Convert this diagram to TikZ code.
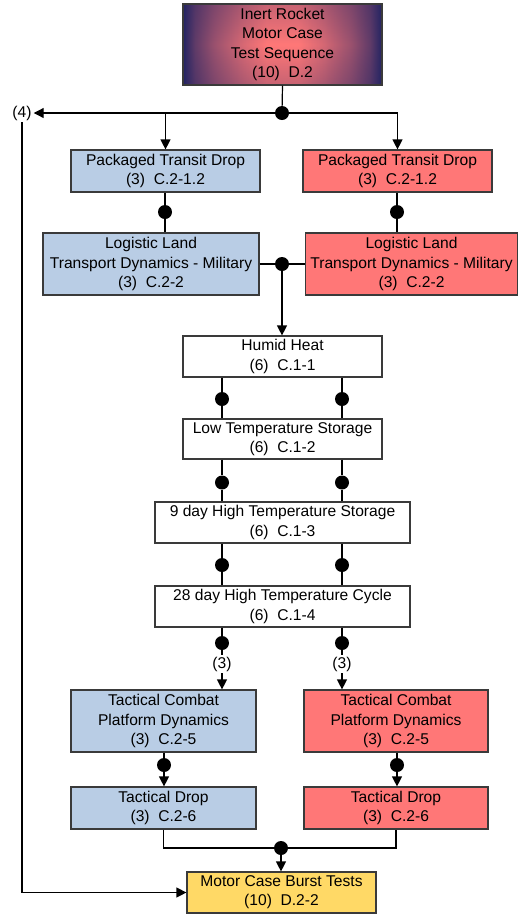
\documentclass[tikz,border=0pt]{standalone}
\usepackage{fontspec}
\setmainfont{Liberation Sans}
\usetikzlibrary{arrows.meta,calc,fadings}

\definecolor{boxline}{HTML}{3A3A3A}
\definecolor{bluefill}{HTML}{B9CDE5}
\definecolor{redfill}{HTML}{FF7777}
\definecolor{goldfill}{HTML}{FFD966}
\definecolor{navyedge}{HTML}{232463}
\definecolor{salmonmid}{HTML}{FF7878}

% left-to-right fade: dark blue at the sides, salmon in the middle
\pgfdeclarehorizontalshading{rocketshade}{100bp}{%
  color(0bp)=(navyedge); color(25bp)=(navyedge);
  color(28bp)=(navyedge!72!salmonmid); color(33bp)=(navyedge!45!salmonmid);
  color(40bp)=(salmonmid!82!navyedge); color(46bp)=(salmonmid);
  color(54bp)=(salmonmid); color(60bp)=(salmonmid!82!navyedge);
  color(67bp)=(navyedge!45!salmonmid); color(72bp)=(navyedge!72!salmonmid);
  color(75bp)=(navyedge); color(100bp)=(navyedge)}

% slight darkening towards the top and bottom edges of the heading box
\tikzfading[name=edgefade, top color=transparent!75, bottom color=transparent!75,
  middle color=transparent!100]

\tikzset{
  box/.style={draw=boxline, line width=1.2pt, inner sep=0pt, align=center,
              font=\fontsize{15.6}{19.2}\selectfont},
  bluebox/.style={box, fill=bluefill},
  redbox/.style={box, fill=redfill},
  plainbox/.style={box, fill=white},
  goldbox/.style={box, fill=goldfill},
  headbox/.style={box, shading=rocketshade,
    path picture={\fill[navyedge, path fading=edgefade]
      (path picture bounding box.south west) rectangle
      (path picture bounding box.north east);}},
  dot/.style={circle, fill=black, inner sep=0pt, minimum size=14pt},
  link/.style={line width=1.2pt, black},
  arr/.style={link, -{Triangle[length=10pt,width=10pt]}},
  tag/.style={inner sep=2pt, fill=white, font=\fontsize{15.6}{19.2}\selectfont},
}

\begin{document}
\begin{tikzpicture}[x=1pt, y=-1pt]
\useasboundingbox (0,0) rectangle (519,914);

% ---- boxes ----
\node[headbox, minimum width=199pt, minimum height=81pt] (top) at (282.5,44.5)
  {Inert Rocket\\Motor Case\\Test Sequence\\(10)\ \ D.2};

\node[bluebox, minimum width=189pt, minimum height=42pt] (ptdL) at (165.5,171)
  {Packaged Transit Drop\\(3)\ \ C.2-1.2};
\node[redbox, minimum width=189pt, minimum height=42pt] (ptdR) at (397.5,171)
  {Packaged Transit Drop\\(3)\ \ C.2-1.2};

\node[bluebox, minimum width=216pt, minimum height=62pt] (llL) at (151,264)
  {Logistic Land\\Transport Dynamics - Military\\(3)\ \ C.2-2};
\node[redbox, minimum width=212pt, minimum height=62pt] (llR) at (411.5,264)
  {Logistic Land\\Transport Dynamics - Military\\(3)\ \ C.2-2};

\node[plainbox, minimum width=199pt, minimum height=41pt] (hh) at (282.5,356.5)
  {Humid Heat\\(6)\ \ C.1-1};
\node[plainbox, minimum width=199pt, minimum height=40pt] (lt) at (282.5,439)
  {Low Temperature Storage\\(6)\ \ C.1-2};
\node[plainbox, minimum width=255pt, minimum height=41pt] (nd) at (282.5,522.5)
  {9 day High Temperature Storage\\(6)\ \ C.1-3};
\node[plainbox, minimum width=255pt, minimum height=41pt] (td) at (282.5,606.5)
  {28 day High Temperature Cycle\\(6)\ \ C.1-4};

\node[bluebox, minimum width=185pt, minimum height=62pt] (tcL) at (163.5,721)
  {Tactical Combat\\Platform Dynamics\\(3)\ \ C.2-5};
\node[redbox, minimum width=184pt, minimum height=62pt] (tcR) at (396,721)
  {Tactical Combat\\Platform Dynamics\\(3)\ \ C.2-5};

\node[bluebox, minimum width=185pt, minimum height=42pt] (tdL) at (163.5,808)
  {Tactical Drop\\(3)\ \ C.2-6};
\node[redbox, minimum width=184pt, minimum height=42pt] (tdR) at (396,808)
  {Tactical Drop\\(3)\ \ C.2-6};

\node[goldbox, minimum width=189pt, minimum height=41pt] (mc) at (281.5,892.5)
  {Motor Case Burst Tests\\(10)\ \ D.2-2};

% ---- junction dots ----
\node[dot] (j0) at (282,113) {};
\node[dot] (pL) at (165,212) {};
\node[dot] (pR) at (397,212) {};
\node[dot] (j1) at (282,264) {};
\node[dot] (a1) at (222,399) {};
\node[dot] (b1) at (342,399) {};
\node[dot] (a2) at (222,482.5) {};
\node[dot] (b2) at (342,482.5) {};
\node[dot] (a3) at (222,565) {};
\node[dot] (b3) at (342,565) {};
\node[dot] (a4) at (222,643) {};
\node[dot] (b4) at (342,643) {};
\node[dot] (cL) at (164,765) {};
\node[dot] (cR) at (397,765) {};
\node[dot] (j2) at (281,848) {};

% ---- labels on lines ----
\node[tag] (n4) at (22,113) {(4)};
\node[tag] (qa) at (222,664) {(3)};
\node[tag] (qb) at (342,664) {(3)};

% ---- connectors ----
\draw[link] (top.south) -- (j0);
\draw[arr] (j0) -- (n4.east);
\draw[arr] (j0) -| (ptdL.north);
\draw[arr] (j0) -| (ptdR.north);
\draw[arr] (n4.south) |- (mc.west);

\draw[link] (ptdL.south -| pL) -- (pL) -- (llL.north -| pL);
\draw[link] (ptdR.south -| pR) -- (pR) -- (llR.north -| pR);

\draw[link] (llL.east) -- (j1) -- (llR.west);
\draw[arr] (j1) -- (hh.north -| j1);

\draw[link] (hh.south -| a1) -- (a1) -- (lt.north -| a1);
\draw[link] (hh.south -| b1) -- (b1) -- (lt.north -| b1);
\draw[link] (lt.south -| a2) -- (a2) -- (nd.north -| a2);
\draw[link] (lt.south -| b2) -- (b2) -- (nd.north -| b2);
\draw[link] (nd.south -| a3) -- (a3) -- (td.north -| a3);
\draw[link] (nd.south -| b3) -- (b3) -- (td.north -| b3);

\draw[link] (td.south -| a4) -- (a4) -- (qa);
\draw[arr] (qa) -- (tcL.north -| qa);
\draw[link] (td.south -| b4) -- (b4) -- (qb);
\draw[arr] (qb) -- (tcR.north -| qb);

\draw[link] (tcL.south -| cL) -- (cL);
\draw[arr] (cL) -- (tdL.north -| cL);
\draw[link] (tcR.south -| cR) -- (cR);
\draw[arr] (cR) -- (tdR.north -| cR);

\draw[link] (tdL.south) |- (j2) -| (tdR.south);
\draw[arr] (j2) -- (mc.north -| j2);
\end{tikzpicture}
\end{document}
